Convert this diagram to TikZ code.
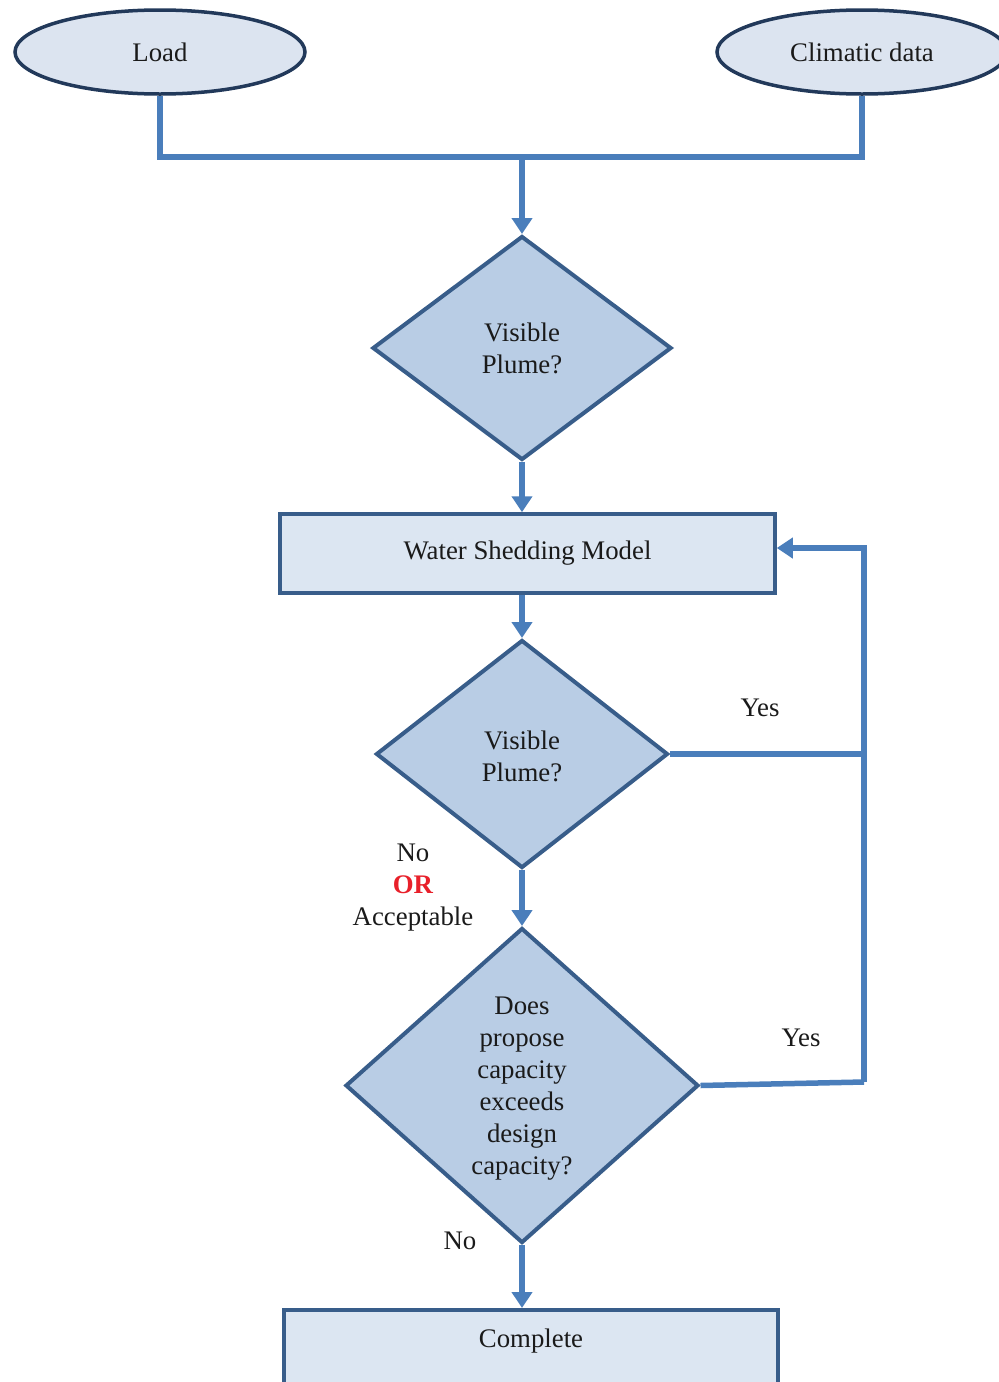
\documentclass[tikz,border=0pt]{standalone}
\usepackage{fontspec}
\setmainfont{Liberation Serif}
\usetikzlibrary{shapes.geometric,arrows.meta}

\definecolor{connblue}{HTML}{4A7EBB}
\definecolor{edgeblue}{HTML}{385D8A}
\definecolor{darkedge}{HTML}{22395A}
\definecolor{diafill}{HTML}{B9CDE5}
\definecolor{boxfill}{HTML}{DCE6F2}
\definecolor{ellfill}{HTML}{DCE4F0}
\definecolor{txt}{HTML}{1A1A1A}
\definecolor{orred}{HTML}{E8202A}

\tikzset{
  every node/.style={text=txt, font=\fontsize{26.8}{32}\selectfont},
  inputell/.style={ellipse, draw=darkedge, fill=ellfill, line width=3.5pt,
    inner sep=0pt, minimum width=290pt, minimum height=84pt},
  decision/.style={diamond, draw=edgeblue, fill=diafill, line width=4pt,
    inner sep=0pt, align=center},
  procbox/.style={rectangle, draw=edgeblue, fill=boxfill, line width=3.5pt,
    inner sep=0pt},
  conn/.style={draw=connblue, line width=5.5pt},
  flow/.style={conn, -{Triangle[width=20pt,length=16pt]}},
  lbl/.style={align=center, inner sep=0pt}
}

\begin{document}
\begin{tikzpicture}[x=1pt, y=-1pt]
  \useasboundingbox (0,0) rectangle (999,1382);
  \clip (0,0) rectangle (999,1382);

  % inputs
  \node[inputell] (load) at (160,52) {Load};
  \node[inputell] (clim) at (862,52) {Climatic data};

  % decisions and process boxes
  \node[decision, minimum width=299pt, minimum height=224pt] (vis1) at (522,348) {Visible\\Plume?};
  \node[procbox, minimum width=495pt, minimum height=79pt] (wsm) at (527.5,553.5) {Water Shedding Model};
  \node[decision, minimum width=292pt, minimum height=228pt] (vis2) at (522,754) {};
  \node[lbl] (vis2text) at (522,756) {Visible\\Plume?};
  \node[decision, minimum width=353pt, minimum height=315pt] (cap) at (522,1085.5) {};
  \node[lbl] (captext) at (522,1089) {Does\\propose\\capacity\\exceeds\\design\\capacity?};
  \node[procbox, anchor=north, minimum width=494pt, text height=18pt, text depth=90pt,
    inner ysep=20pt] (done) at (531,1308) {Complete};

  % junction points
  \coordinate (merge) at (522,157);
  \coordinate (loopTop) at (864,548);
  \coordinate (loopBot) at (864,1082);

  % merging the two inputs
  \draw[conn] (load.south) |- (merge) -| (clim.south);
  \draw[flow] (merge) -- (vis1.north);

  % main flow
  \draw[flow] (vis1.south) -- (wsm.north -| vis1.south);
  \draw[flow] (wsm.south -| vis2.north) -- (vis2.north);
  \draw[flow] (vis2.south) -- (cap.north);
  \draw[flow] (cap.south) -- (done.north -| cap.south);

  % feedback loop
  \draw[conn] (vis2.east) -- (vis2.east -| loopTop);
  \draw[conn] (cap.east) -- (loopBot);
  \draw[flow] (loopBot) -- (loopTop) -- (wsm.east |- loopTop);

  % branch labels
  \node[lbl] (yes1) at (760,708) {Yes};
  \node[lbl] (yes2) at (801,1038) {Yes};
  \node[lbl] (noor) at (413,888) {No\\\textcolor{orred}{\textbf{OR}}\\Acceptable};
  \node[lbl] (no2) at (460,1241) {No};
\end{tikzpicture}
\end{document}
